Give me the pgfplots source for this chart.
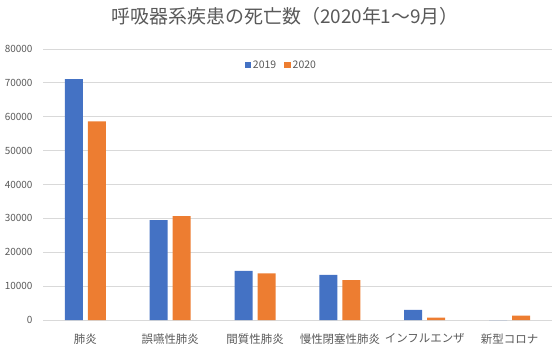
\documentclass[border=0pt]{standalone}
\usepackage{pgfplots}
\pgfplotsset{compat=1.18}
\usepackage{fontspec}
\setmainfont{Noto Sans CJK JP}
\definecolor{c19}{HTML}{4472C4}
\definecolor{c20}{HTML}{ED7D31}
\definecolor{txt}{HTML}{595959}
\definecolor{grd}{HTML}{D9D9D9}
\begin{document}
\begin{tikzpicture}[x=1bp,y=1bp]
\begin{axis}[
  at={(0,0)}, anchor=south west,
  scale only axis,
  width=509bp, height=271bp,
  ybar=5bp, bar width=18bp,
  xmin=-0.5, xmax=5.5,
  ymin=0, ymax=80000,
  ytick={0,10000,...,80000},
  xtick=data,
  xticklabels={肺炎,誤嚥性肺炎,間質性肺炎,慢性閉塞性肺炎,インフルエンザ,新型コロナ},
  scaled y ticks=false,
  /pgf/number format/assume math mode=true,
  yticklabel style={/pgf/number format/fixed,/pgf/number format/1000 sep={},font=\fontsize{10}{12}\selectfont,text=txt,xshift=-7bp},
  xticklabel style={font=\fontsize{11.5}{13}\selectfont,text=txt,yshift=-10bp},
  major tick length=0pt,
  axis line style={draw=none},
  ymajorgrids, grid style={grd,line width=0.8bp},
  legend style={at={(0.468,0.94)},anchor=center,draw=none,fill=none,
    legend columns=2,font=\fontsize{10.5}{12}\selectfont,text=txt,
    /tikz/every even column/.append style={column sep=6bp}},
  legend image code/.code={\fill[#1] (1bp,-3.2bp) rectangle (7.5bp,3.2bp);},
  clip=false,
]
\addplot[fill=c19,draw=none] coordinates {(0,71100) (1,29500) (2,14500) (3,13300) (4,3000) (5,0)};
\addplot[fill=c20,draw=none] coordinates {(0,58600) (1,30700) (2,13800) (3,11800) (4,700) (5,1300)};
\legend{2019,2020}
\node[text=txt,font=\fontsize{19}{21}\selectfont] at ([yshift=33bp]rel axis cs:0.476,1) {呼吸器系疾患の死亡数（2020年1～9月）};
\end{axis}
\path (-43bp,-35bp) rectangle (517bp,320bp);
\end{tikzpicture}
\end{document}
